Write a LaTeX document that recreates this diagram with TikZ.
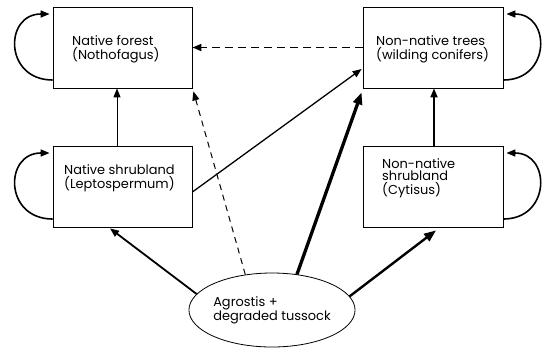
\documentclass[tikz,border=0pt]{standalone}
\usepackage{fontspec}
\setmainfont{Poppins}
\usetikzlibrary{arrows.meta,shapes.geometric}
\begin{document}
\begin{tikzpicture}[x=1bp,y=-1bp,
  box/.style={draw,line width=0.8bp,minimum height=81bp,inner sep=0pt},
  boxtext/.style={anchor=base west,align=left,inner sep=0pt,font=\fontsize{13}{12}\selectfont},
  tip/.style={-{Triangle[length=9bp,width=7bp]}},
  bigtip/.style={-{Triangle[length=12bp,width=9bp]}},
  loopline/.style={line width=1.6bp,tip}]
\useasboundingbox (0,0) rectangle (547,348);
\fill[white] (0,0) rectangle (547,348);
% boxes
\node[box,minimum width=139bp] (nf) at (122.5,47.5) {};
\node[box,minimum width=139bp] (ns) at (122.5,186.5) {};
\node[box,minimum width=140bp] (nnt) at (433,47.5) {};
\node[box,minimum width=140bp] (nns) at (433,186.5) {};
\node[draw,ellipse,line width=0.8bp,minimum width=160bp,minimum height=74bp,inner sep=0pt,align=left,font=\fontsize{13}{13}\selectfont] (ell) at (272,310) {Agrostis +\\degraded tussock};
% texts (anchored at the baseline of the last line)
\node[boxtext] (nft) at (72,59) {Native forest\\(Nothofagus)};
\node[boxtext] (nst) at (64,188) {Native shrubland\\(Leptospermum)};
\node[boxtext] (nntt) at (376,59) {Non-native trees\\(wilding conifers)};
\node[boxtext] (nnst) at (382,194) {Non-native\\shrubland\\(Cytisus)};
% self loops
\draw[loopline] ([yshift=-32.5bp]nf.west) .. controls (4,80) and (4,14) .. ([xshift=-3bp,yshift=33.5bp]nf.west);
\draw[loopline] ([yshift=-32.5bp]ns.west) .. controls (4,219) and (4,153) .. ([xshift=-3bp,yshift=33.5bp]ns.west);
\draw[loopline] ([yshift=-32.5bp]nnt.east) .. controls (551,80) and (551,14) .. ([xshift=3bp,yshift=33.5bp]nnt.east);
\draw[loopline] ([yshift=-32.5bp]nns.east) .. controls (551,219) and (551,153) .. ([xshift=3bp,yshift=33.5bp]nns.east);
% connectors
\draw[tip,line width=1bp] ([xshift=-5.5bp]ns.north) -- ([xshift=-5.5bp]nf.south);
\draw[tip,line width=1.8bp] ([xshift=1bp]nns.north) -- ([xshift=1bp]nns.north |- nnt.south);
\draw[tip,line width=1.8bp,dash pattern=on 8bp off 5bp] (nnt.west) -- (nf.east);
\draw[tip,line width=1.3bp] ([yshift=-5.5bp]ns.east) -- ([xshift=-1bp,yshift=-21.5bp]nnt.west);
\draw[tip,line width=1bp,dash pattern=on 6bp off 5bp] (ell.127) -- ([xshift=1bp,yshift=-3bp]nf.south east);
\draw[bigtip,line width=3.3bp] (ell.55) -- ([xshift=-1bp,yshift=-4bp]nnt.south west);
\draw[tip,line width=1.8bp] (ell.168) -- ([xshift=-12.5bp,yshift=-1bp]ns.south);
\draw[bigtip,line width=2.4bp] (ell.10) -- ([xshift=3bp,yshift=-3bp]nns.south);
\end{tikzpicture}
\end{document}
